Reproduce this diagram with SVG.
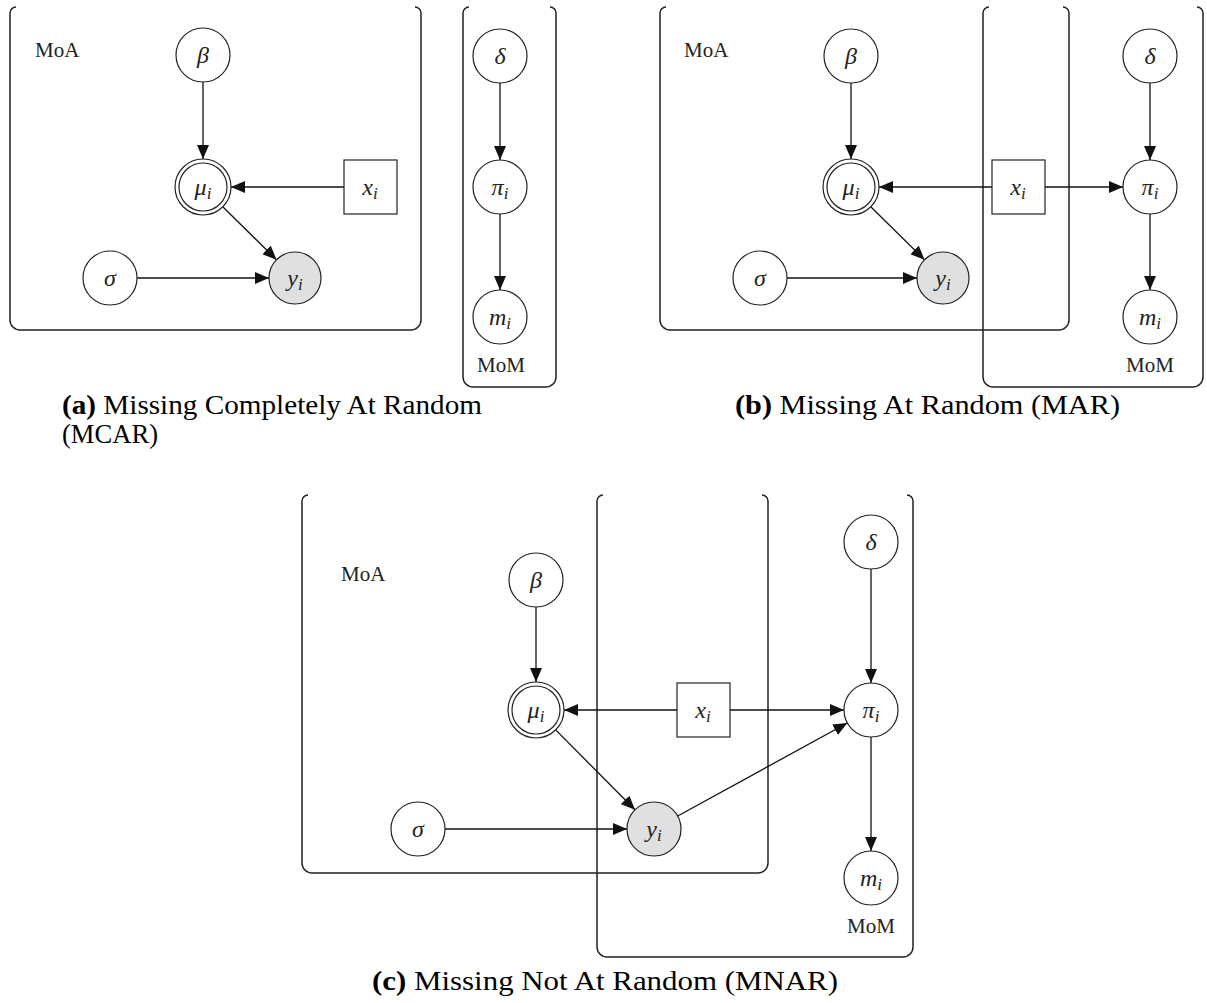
<svg xmlns="http://www.w3.org/2000/svg" width="1207" height="1003" viewBox="0 0 1207 1003">
<style>
.plate{fill:none;stroke:#222;stroke-width:1.5}
.node{fill:#fff;stroke:#222;stroke-width:1.2}
.obs{fill:#e0e0e0}
.edge{stroke:#111;stroke-width:1.3;fill:none;marker-end:url(#arr)}
.lbl{font-family:"Liberation Serif",serif;font-style:italic;font-size:24px;fill:#222;text-anchor:middle}
.sub{font-size:17px}
.plabel{font-family:"Liberation Serif",serif;font-size:21px;fill:#222}
.cap{font-family:"Liberation Serif",serif;font-size:27px;fill:#000}
.b{font-weight:bold}
</style>
<defs>
<marker id="arr" viewBox="0 0 14 12" refX="14" refY="6" markerWidth="14" markerHeight="12" markerUnits="userSpaceOnUse" orient="auto"><path d="M0,0 L14,6 L0,12 z" fill="#111"/></marker>
</defs>
<rect width="1207" height="1003" fill="#fff"/>

<!-- Panel (a) -->
<g id="a-plate-moa"><path class="plate" d="M16,7 A6,6 0 0 0 10,13 L10,320 A10,10 0 0 0 20,330 L411,330 A10,10 0 0 0 421,320 L421,13 A6,6 0 0 0 415,7"/><text class="plabel" x="35" y="57">MoA</text></g>
<g id="a-plate-mom"><path class="plate" d="M469,7 A6,6 0 0 0 463,13 L463,377 A10,10 0 0 0 473,387 L546,387 A10,10 0 0 0 556,377 L556,13 A6,6 0 0 0 550,7"/><text class="plabel" x="501" y="372" text-anchor="middle">MoM</text></g>

<g id="a-connectors">
<line class="edge" x1="203" y1="82" x2="203" y2="159"/>
<line class="edge" x1="344" y1="187" x2="231" y2="187"/>
<line class="edge" x1="223" y1="207" x2="276.5" y2="259.7"/>
<line class="edge" x1="137" y1="278" x2="269" y2="278"/>
<line class="edge" x1="500" y1="83" x2="500" y2="160"/>
<line class="edge" x1="500" y1="214" x2="500" y2="290"/>
</g>

<g id="a-beta"><circle class="node" cx="203" cy="55" r="27"/><text class="lbl" x="203" y="63">β</text></g>
<g id="a-mu"><circle class="node" cx="203" cy="187" r="28"/><circle class="node" cx="203" cy="187" r="24"/><text class="lbl" x="203" y="195">μ<tspan class="sub" dy="4">i</tspan></text></g>
<g id="a-x"><rect class="node" x="344" y="160" width="53" height="54"/><text class="lbl" x="370" y="195">x<tspan class="sub" dy="4">i</tspan></text></g>
<g id="a-sigma"><circle class="node" cx="110" cy="278" r="27"/><text class="lbl" x="110" y="286">σ</text></g>
<g id="a-y"><circle class="node obs" cx="295" cy="278" r="26"/><text class="lbl" x="295" y="286">y<tspan class="sub" dy="4">i</tspan></text></g>
<g id="a-delta"><circle class="node" cx="500" cy="56" r="27"/><text class="lbl" x="500" y="64">δ</text></g>
<g id="a-pi"><circle class="node" cx="500" cy="187" r="27"/><text class="lbl" x="500" y="195">π<tspan class="sub" dy="4">i</tspan></text></g>
<g id="a-m"><circle class="node" cx="500" cy="317" r="27"/><text class="lbl" x="500" y="325">m<tspan class="sub" dy="4">i</tspan></text></g>

<text class="cap" x="62" y="414" textLength="420" lengthAdjust="spacingAndGlyphs"><tspan class="b">(a)</tspan> Missing Completely At Random</text>
<text class="cap" x="62" y="443" textLength="96" lengthAdjust="spacingAndGlyphs">(MCAR)</text>

<!-- Panel (b) -->
<g id="b-plate-moa"><path class="plate" d="M666,7 A6,6 0 0 0 660,13 L660,320 A10,10 0 0 0 670,330 L1059,330 A10,10 0 0 0 1069,320 L1069,13 A6,6 0 0 0 1063,7"/><text class="plabel" x="684" y="57">MoA</text></g>
<g id="b-plate-mom"><path class="plate" d="M989,7 A6,6 0 0 0 983,13 L983,377 A10,10 0 0 0 993,387 L1193,387 A10,10 0 0 0 1203,377 L1203,13 A6,6 0 0 0 1197,7"/><text class="plabel" x="1150" y="372" text-anchor="middle">MoM</text></g>

<g id="b-connectors">
<line class="edge" x1="851" y1="83" x2="851" y2="159"/>
<line class="edge" x1="992" y1="187" x2="879" y2="187"/>
<line class="edge" x1="1045" y1="187" x2="1123" y2="187"/>
<line class="edge" x1="871" y1="207" x2="924.5" y2="259.7"/>
<line class="edge" x1="787" y1="278" x2="917" y2="278"/>
<line class="edge" x1="1150" y1="83" x2="1150" y2="160"/>
<line class="edge" x1="1150" y1="214" x2="1150" y2="290"/>
</g>

<g id="b-beta"><circle class="node" cx="851" cy="56" r="27"/><text class="lbl" x="851" y="64">β</text></g>
<g id="b-mu"><circle class="node" cx="851" cy="187" r="28"/><circle class="node" cx="851" cy="187" r="24"/><text class="lbl" x="851" y="195">μ<tspan class="sub" dy="4">i</tspan></text></g>
<g id="b-x"><rect class="node" x="992" y="160" width="53" height="54"/><text class="lbl" x="1018" y="195">x<tspan class="sub" dy="4">i</tspan></text></g>
<g id="b-sigma"><circle class="node" cx="760" cy="278" r="27"/><text class="lbl" x="760" y="286">σ</text></g>
<g id="b-y"><circle class="node obs" cx="943" cy="278" r="26"/><text class="lbl" x="943" y="286">y<tspan class="sub" dy="4">i</tspan></text></g>
<g id="b-delta"><circle class="node" cx="1150" cy="56" r="27"/><text class="lbl" x="1150" y="64">δ</text></g>
<g id="b-pi"><circle class="node" cx="1150" cy="187" r="27"/><text class="lbl" x="1150" y="195">π<tspan class="sub" dy="4">i</tspan></text></g>
<g id="b-m"><circle class="node" cx="1150" cy="317" r="27"/><text class="lbl" x="1150" y="325">m<tspan class="sub" dy="4">i</tspan></text></g>

<text class="cap" x="735" y="414" textLength="385" lengthAdjust="spacingAndGlyphs"><tspan class="b">(b)</tspan> Missing At Random (MAR)</text>

<!-- Panel (c) -->
<g id="c-plate-moa"><path class="plate" d="M308,495 A6,6 0 0 0 302,501 L302,863 A10,10 0 0 0 312,873 L758,873 A10,10 0 0 0 768,863 L768,501 A6,6 0 0 0 762,495"/><text class="plabel" x="341" y="581">MoA</text></g>
<g id="c-plate-mom"><path class="plate" d="M603,495 A6,6 0 0 0 597,501 L597,947 A10,10 0 0 0 607,957 L903,957 A10,10 0 0 0 913,947 L913,501 A6,6 0 0 0 907,495"/><text class="plabel" x="871" y="933" text-anchor="middle">MoM</text></g>

<g id="c-connectors">
<line class="edge" x1="536" y1="607" x2="536" y2="682"/>
<line class="edge" x1="677" y1="710" x2="564" y2="710"/>
<line class="edge" x1="730" y1="710" x2="844" y2="710"/>
<line class="edge" x1="555.7" y1="729.9" x2="635" y2="809.8"/>
<line class="edge" x1="445" y1="829" x2="627" y2="829"/>
<line class="edge" x1="677.7" y1="816" x2="847.3" y2="723"/>
<line class="edge" x1="871" y1="569" x2="871" y2="683"/>
<line class="edge" x1="871" y1="737" x2="871" y2="851"/>
</g>

<g id="c-beta"><circle class="node" cx="536" cy="580" r="27"/><text class="lbl" x="536" y="588">β</text></g>
<g id="c-mu"><circle class="node" cx="536" cy="710" r="28"/><circle class="node" cx="536" cy="710" r="24"/><text class="lbl" x="536" y="718">μ<tspan class="sub" dy="4">i</tspan></text></g>
<g id="c-x"><rect class="node" x="677" y="683" width="53" height="54"/><text class="lbl" x="703" y="718">x<tspan class="sub" dy="4">i</tspan></text></g>
<g id="c-sigma"><circle class="node" cx="418" cy="829" r="27"/><text class="lbl" x="418" y="837">σ</text></g>
<g id="c-y"><circle class="node obs" cx="654" cy="829" r="27"/><text class="lbl" x="654" y="837">y<tspan class="sub" dy="4">i</tspan></text></g>
<g id="c-delta"><circle class="node" cx="871" cy="542" r="27"/><text class="lbl" x="871" y="550">δ</text></g>
<g id="c-pi"><circle class="node" cx="871" cy="710" r="27"/><text class="lbl" x="871" y="718">π<tspan class="sub" dy="4">i</tspan></text></g>
<g id="c-m"><circle class="node" cx="871" cy="878" r="27"/><text class="lbl" x="871" y="886">m<tspan class="sub" dy="4">i</tspan></text></g>

<text class="cap" x="372" y="990" textLength="466" lengthAdjust="spacingAndGlyphs"><tspan class="b">(c)</tspan> Missing Not At Random (MNAR)</text>
</svg>
